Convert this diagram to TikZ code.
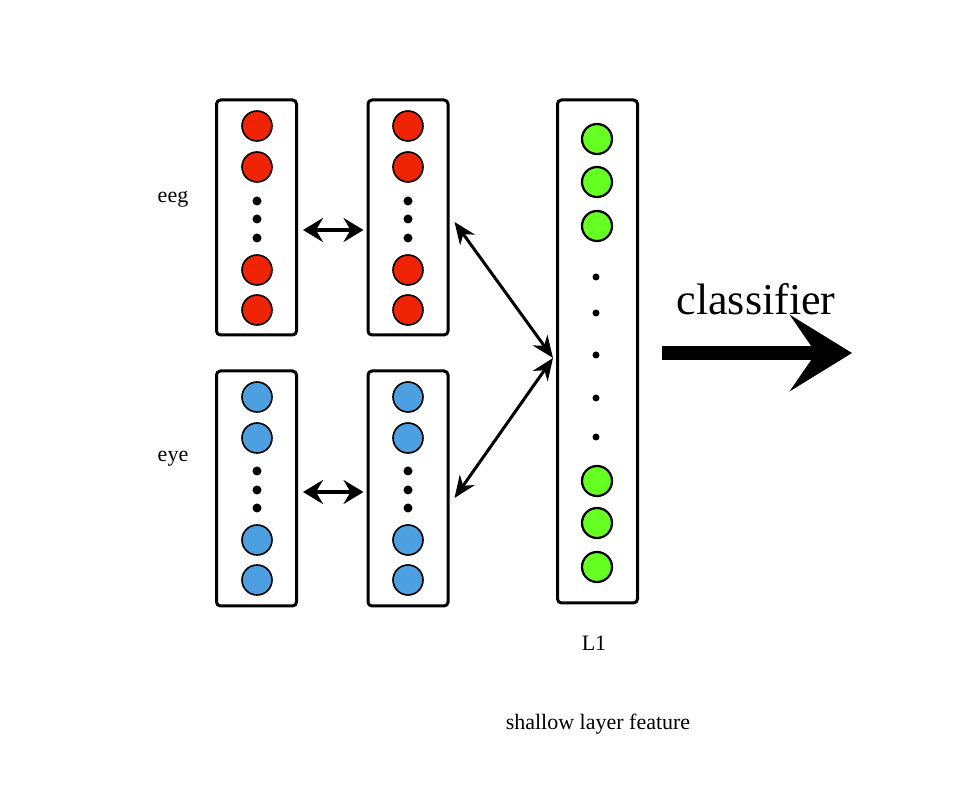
\documentclass[tikz,border=0pt]{standalone}
\usepackage{fontspec}
\setmainfont{Liberation Serif}
\usepackage{tikz}
\usetikzlibrary{positioning, arrows.meta, shapes.geometric}
\definecolor{unitred}{RGB}{238,36,4}
\definecolor{unitblue}{RGB}{76,160,226}
\definecolor{unitgreen}{RGB}{102,255,34}

\begin{document}
\begin{tikzpicture}[x=0.5pt, y=-0.5pt, font=\fontsize{11}{13}\selectfont,
column/.style={rectangle, rounded corners=2pt, draw=black, line width=1.5pt,
minimum width=40pt, minimum height=#1, inner sep=0pt},
unit/.style={circle, draw=black, line width=0.8pt, fill=#1, minimum size=15pt, inner sep=0pt},
gap/.style={ellipse, fill=black, minimum width=#1, minimum height=#1, inner sep=0pt},
pairarrow/.style={{Stealth[length=10pt, width=12pt, inset=3.5pt]}-{Stealth[length=10pt, width=12pt, inset=3.5pt]}, line width=2.3pt},
linkarrow/.style={{Stealth[length=11pt, width=9pt, inset=3.5pt]}-{Stealth[length=11pt, width=9pt, inset=3.5pt]}, line width=1.5pt},
bigarrow/.style={-{Stealth[length=31pt, width=38pt, inset=13pt]}, line width=7pt}
]
\useasboundingbox (0,0) rectangle (960,786);

% Columns
\node[column=117.5pt] (eeg1) at (256.5,217.5) {};
\node[column=117.5pt] (eeg2) at (408,217.5) {};
\node[column=117.5pt] (eye1) at (256.5,488.5) {};
\node[column=117.5pt] (eye2) at (408,488.5) {};
\node[column=251.5pt] (l1) at (597.5,351.5) {};

% eeg units
\node[unit=unitred] (ra1) at (257,126) {};
\node[unit=unitred] (ra2) at (257,167) {};
\node[gap=4.5pt] (rda1) at (257,201) {};
\node[gap=4.5pt] (rda2) at (257,219) {};
\node[gap=4.5pt] (rda3) at (257,238) {};
\node[unit=unitred] (ra3) at (257,270) {};
\node[unit=unitred] (ra4) at (257,310) {};

\node[unit=unitred] (rb1) at (408,126) {};
\node[unit=unitred] (rb2) at (408,167) {};
\node[gap=4.5pt] (rdb1) at (408,201) {};
\node[gap=4.5pt] (rdb2) at (408,219) {};
\node[gap=4.5pt] (rdb3) at (408,238) {};
\node[unit=unitred] (rb3) at (408,270) {};
\node[unit=unitred] (rb4) at (408,310) {};

% eye units
\node[unit=unitblue] (ba1) at (257,397) {};
\node[unit=unitblue] (ba2) at (257,438) {};
\node[gap=4.5pt] (bda1) at (257,471) {};
\node[gap=4.5pt] (bda2) at (257,490) {};
\node[gap=4.5pt] (bda3) at (257,508) {};
\node[unit=unitblue] (ba3) at (257,540) {};
\node[unit=unitblue] (ba4) at (257,580) {};

\node[unit=unitblue] (bb1) at (408,397) {};
\node[unit=unitblue] (bb2) at (408,438) {};
\node[gap=4.5pt] (bdb1) at (408,471) {};
\node[gap=4.5pt] (bdb2) at (408,490) {};
\node[gap=4.5pt] (bdb3) at (408,508) {};
\node[unit=unitblue] (bb3) at (408,540) {};
\node[unit=unitblue] (bb4) at (408,580) {};

% L1 units
\node[unit=unitgreen, line width=1.1pt] (g1) at (597,139) {};
\node[unit=unitgreen, line width=1.1pt] (g2) at (597,182) {};
\node[unit=unitgreen, line width=1.1pt] (g3) at (597,226) {};
\node[gap=3.5pt] (gd1) at (596,277) {};
\node[gap=3.5pt] (gd2) at (596,313) {};
\node[gap=3.5pt] (gd3) at (596,355) {};
\node[gap=3.5pt] (gd4) at (596,398) {};
\node[gap=3.5pt] (gd5) at (596,437) {};
\node[unit=unitgreen, line width=1.1pt] (g4) at (597,481) {};
\node[unit=unitgreen, line width=1.1pt] (g5) at (597,523) {};
\node[unit=unitgreen, line width=1.1pt] (g6) at (597,567) {};

% Labels
\node (eeglabel) at (173,199) {eeg};
\node (eyelabel) at (173,459) {eye};
\node (l1label) at (594,643) {L1};
\node (shallow) at (598,724) {shallow layer feature};
\node[font=\fontsize{22}{26}\selectfont] (cls) at (756,299) {classifier};
\coordinate (out) at (852,353);

% Arrows
\draw[pairarrow] ([shift={(5,12.5)}]eeg1.east) -- ([shift={(-3,12.5)}]eeg2.west);
\draw[pairarrow] ([shift={(5,3.5)}]eye1.east) -- ([shift={(-3,3.5)}]eye2.west);
\draw[linkarrow] ([shift={(5,4.5)}]eeg2.east) -- ([shift={(-3,6.5)}]l1.west);
\draw[linkarrow] ([shift={(-3,6.5)}]l1.west) -- ([shift={(5,9.5)}]eye2.east);
\draw[bigarrow] ([shift={(23,1.5)}]l1.east) -- (out);

\end{tikzpicture}
\end{document}
